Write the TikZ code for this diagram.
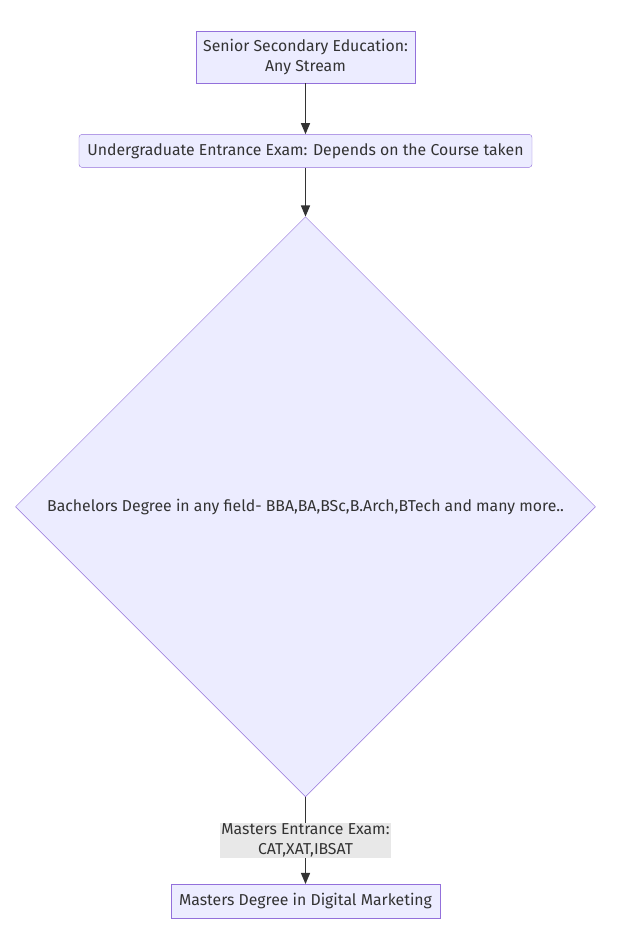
\documentclass[tikz,border=0pt]{standalone}
\usepackage{fontspec}
\setmainfont{Fira Sans}
\usepackage{tikz}
\usepackage{xcolor}
\usetikzlibrary{shapes.geometric,arrows,positioning}
\definecolor{nodefill}{HTML}{ECECFF}
\definecolor{nodeline}{HTML}{9370DB}
\definecolor{ink}{HTML}{333333}
\definecolor{labelbg}{HTML}{E8E8E8}
\tikzstyle{stage} = [rectangle,
                     minimum height=33pt,
                     text centered,
                     align=center,
                     draw=nodeline,
                     fill=nodefill,
                     text=ink]
\tikzstyle{degree} = [diamond,
                      aspect=1,
                      inner sep=0pt,
                      minimum width=580pt,
                      minimum height=580pt,
                      text centered,
                      draw=nodeline,
                      fill=nodefill,
                      text=ink]
\tikzstyle{arrow} = [line width=1.6pt,
                     draw=ink,
                     ->,
                     >=triangle 45]
\tikzstyle{edgelabel} = [fill=labelbg,
                         text=ink,
                         align=center,
                         inner sep=1pt]

\begin{document}
\begin{tikzpicture}[x=1pt,y=1pt,font=\fontsize{15.8}{20}\selectfont]

    \useasboundingbox (0,0) rectangle (640,-933);

    \node (school) [stage, minimum width=219pt, minimum height=52pt] at (305.5,-57)
          {Senior Secondary Education:\\Any Stream};
    \node (ugexam) [stage, rounded corners=3pt, minimum width=453pt, below=51pt of school]
          {Undergraduate Entrance Exam: Depends on the Course taken};
    \node (bachelor) [degree, below=49pt of ugexam]
          {Bachelors Degree in any field- BBA,BA,BSc,B.Arch,BTech and many more..};
    \node (masters) [stage, minimum width=269pt, minimum height=34pt, below=87pt of bachelor]
          {Masters Degree in Digital Marketing};

    \draw [arrow] (school) -- (ugexam);
    \draw [arrow] (ugexam) -- (bachelor);
    \draw [arrow] (bachelor) -- node[edgelabel] {Masters Entrance Exam:\\CAT,XAT,IBSAT} (masters);

\end{tikzpicture}
\end{document}
